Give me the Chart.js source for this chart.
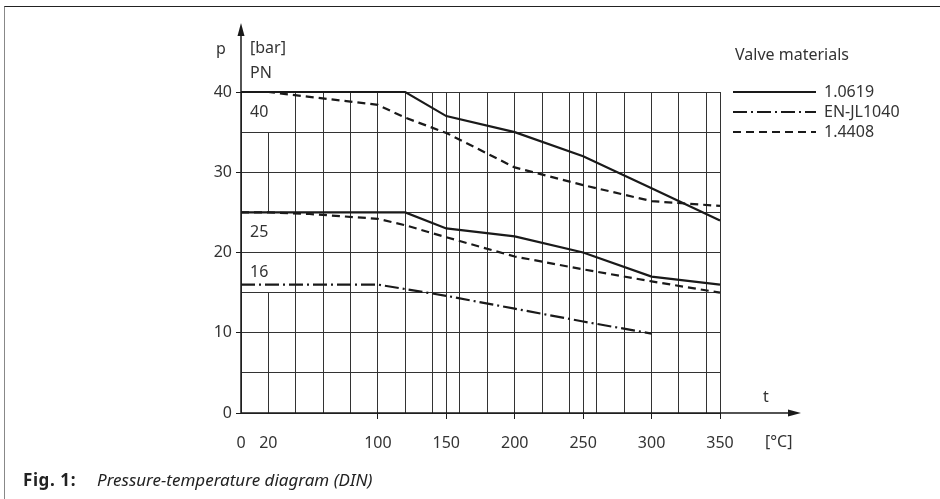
<!DOCTYPE html>
<html>
<head>
<meta charset="utf-8">
<script src="https://cdn.jsdelivr.net/npm/chart.js@4/dist/chart.umd.min.js"></script>
<style>
html, body { margin: 0; padding: 0; background: #fff; }
#wrap { position: relative; width: 940px; height: 499px; overflow: hidden; }
#frame { position: absolute; left: 4px; top: 6px; width: 960px; height: 520px;
  border-top: 1.5px solid #222; border-left: 1.5px solid #888; }
#chart { position: absolute; left: 0; top: 0; }
.cap { position: absolute; top: 468px; font: 17px "Noto Sans", sans-serif; color: #222; white-space: nowrap; }
#capA { left: 23px; font-weight: bold; letter-spacing: 0.6px; }
#capB { left: 97px; font-style: italic; }
</style>
</head>
<body>
<div id="wrap">
  <div id="frame"></div>
  <canvas id="chart" width="940" height="499"></canvas>
  <div class="cap" id="capA">Fig. 1:</div>
  <div class="cap" id="capB">Pressure-temperature diagram (DIN)</div>
</div>
<script>
// axis values
const xLabels = [0, 20, 100, 150, 200, 250, 300, 350];
const xGrid = [0, 20, 40, 60, 80, 100, 120, 140, 150, 160, 180, 200, 220, 240, 250, 260, 280, 300, 320, 340, 350];
const yGrid = [0, 5, 10, 15, 20, 25, 30, 35, 40];
const yLabels = [0, 10, 20, 30, 40];

// 1.0619 (PN 40 and PN 25)
const t10619 = [0, 120, 150, 200, 250, 300, 350];
const p10619PN40 = [40, 40, 37, 35, 32, 28, 24];
const p10619PN25 = [25, 25, 23, 22, 20, 17, 16];
// 1.4408 (PN 40 and PN 25)
const t14408 = [0, 20, 50, 100, 120, 150, 200, 250, 300, 350];
const p14408PN40 = [40, 40, 39.4, 38.4, 36.8, 34.9, 30.6, 28.4, 26.4, 25.8];
const p14408PN25 = [25, 25, 24.8, 24.2, 23.4, 21.9, 19.5, 17.9, 16.4, 15.0];
// EN-JL1040 (PN 16)
const tJL1040 = [0, 100, 150, 200, 250, 300];
const pJL1040PN16 = [16, 16, 14.6, 13, 11.4, 9.9];

const materials = ["1.0619", "EN-JL1040", "1.4408"];
const pnLabels = [["40", 40], ["25", 25], ["16", 16]];

const FONT = '"Noto Sans", sans-serif';
const INK = "#1a1a1a";
const TXT = "#333";
const GRID = "#333";
const NONE = "rgba(0,0,0,0)";
const DASH = { "1.0619": [], "EN-JL1040": [14, 4, 2, 4], "1.4408": [8, 5] };

const pts = (xs, ys) => xs.map((x, i) => ({ x, y: ys[i] }));
const line = (mat, xs, ys) => ({
  label: mat, data: pts(xs, ys), borderColor: INK, borderWidth: 2.2,
  borderDash: DASH[mat], pointRadius: 0, tension: 0, fill: false, clip: 6
});

/* ============ DECORATION: axes, labels, legend ============== */
const decor = {
  id: "decor",
  beforeDatasetsDraw(chart) {
    // grid line at 20 °C is broken around the PN labels
    const { ctx, scales: { x, y } } = chart;
    const px = Math.round(x.getPixelForValue(20)) + 0.5;
    ctx.save();
    ctx.strokeStyle = GRID; ctx.lineWidth = 1;
    [[0, 15], [25, 35]].forEach(([a, b]) => {
      ctx.beginPath();
      ctx.moveTo(px, y.getPixelForValue(a));
      ctx.lineTo(px, y.getPixelForValue(b));
      ctx.stroke();
    });
    ctx.restore();
  },
  afterDraw(chart) {
    const { ctx, scales: { x, y } } = chart;
    ctx.save();
    ctx.strokeStyle = INK; ctx.fillStyle = INK; ctx.lineWidth = 1.5;
    const x0 = x.getPixelForValue(0), y0 = y.getPixelForValue(0);
    // x axis with arrow
    ctx.beginPath(); ctx.moveTo(x0, y0); ctx.lineTo(790, y0); ctx.stroke();
    ctx.beginPath(); ctx.moveTo(801, y0); ctx.lineTo(788, y0 - 3.5); ctx.lineTo(788, y0 + 3.5); ctx.closePath(); ctx.fill();
    // y axis with arrow
    ctx.beginPath(); ctx.moveTo(x0, y0); ctx.lineTo(x0, 34); ctx.stroke();
    ctx.beginPath(); ctx.moveTo(x0, 23); ctx.lineTo(x0 - 3.5, 36); ctx.lineTo(x0 + 3.5, 36); ctx.closePath(); ctx.fill();

    ctx.fillStyle = TXT;
    ctx.font = "16px " + FONT;
    ctx.textBaseline = "middle";
    ctx.textAlign = "center";
    ctx.fillText("p", 221, 49);
    ctx.fillText("t", 766, 397);
    ctx.textAlign = "left";
    ctx.fillText("[bar]", 250, 48);
    ctx.fillText("PN", 250, 73);
    ctx.fillText("[°C]", 765, 442);
    pnLabels.forEach(([s, v]) => {
      const off = v === 16 ? -12 : 20;
      ctx.fillText(s, 250, y.getPixelForValue(v) + off);
    });

    // legend
    ctx.fillText("Valve materials", 735, 55);
    materials.forEach((m, i) => {
      const ly = 92 + i * 20;
      ctx.setLineDash(DASH[m]);
      ctx.lineWidth = 2.2;
      ctx.strokeStyle = INK;
      ctx.beginPath(); ctx.moveTo(733, ly); ctx.lineTo(816, ly); ctx.stroke();
      ctx.setLineDash([]);
      ctx.fillText(m, 824, ly);
    });
    ctx.restore();
  }
};

new Chart(document.getElementById("chart"), {
  type: "line",
  data: {
    datasets: [
      line("1.0619", t10619, p10619PN40),
      line("1.0619", t10619, p10619PN25),
      line("1.4408", t14408, p14408PN40),
      line("1.4408", t14408, p14408PN25),
      line("EN-JL1040", tJL1040, pJL1040PN16)
    ]
  },
  options: {
    responsive: false,
    animation: false,
    devicePixelRatio: 1,
    layout: { padding: { left: 201, right: 220, top: 92, bottom: 46 } },
    plugins: { legend: { display: false }, tooltip: { enabled: false } },
    scales: {
      x: {
        type: "linear", min: 0, max: 350,
        afterBuildTicks: s => { s.ticks = xGrid.map(v => ({ value: v })); },
        afterFit: s => { s.height = 40; },
        border: { display: false },
        grid: {
          color: c => (c.tick && c.tick.value === 20) ? NONE : GRID,
          lineWidth: 1, tickLength: 6,
          tickColor: c => (c.tick && c.tick.value >= 100 && xLabels.includes(c.tick.value)) ? INK : NONE
        },
        ticks: {
          autoSkip: false, maxRotation: 0, padding: 15,
          color: TXT, font: { family: FONT, size: 16 },
          callback: v => xLabels.includes(v) ? String(v) : ""
        }
      },
      y: {
        min: 0, max: 40,
        afterBuildTicks: s => { s.ticks = yGrid.map(v => ({ value: v })); },
        afterFit: s => { s.width = 40; },
        border: { display: false },
        grid: {
          color: GRID, lineWidth: 1, tickLength: 5,
          tickColor: c => (c.tick && yLabels.includes(c.tick.value)) ? INK : NONE
        },
        ticks: {
          padding: 4, color: TXT, font: { family: FONT, size: 16 },
          callback: v => yLabels.includes(v) ? String(v) : ""
        }
      }
    }
  },
  plugins: [decor]
});
</script>
</body>
</html>
